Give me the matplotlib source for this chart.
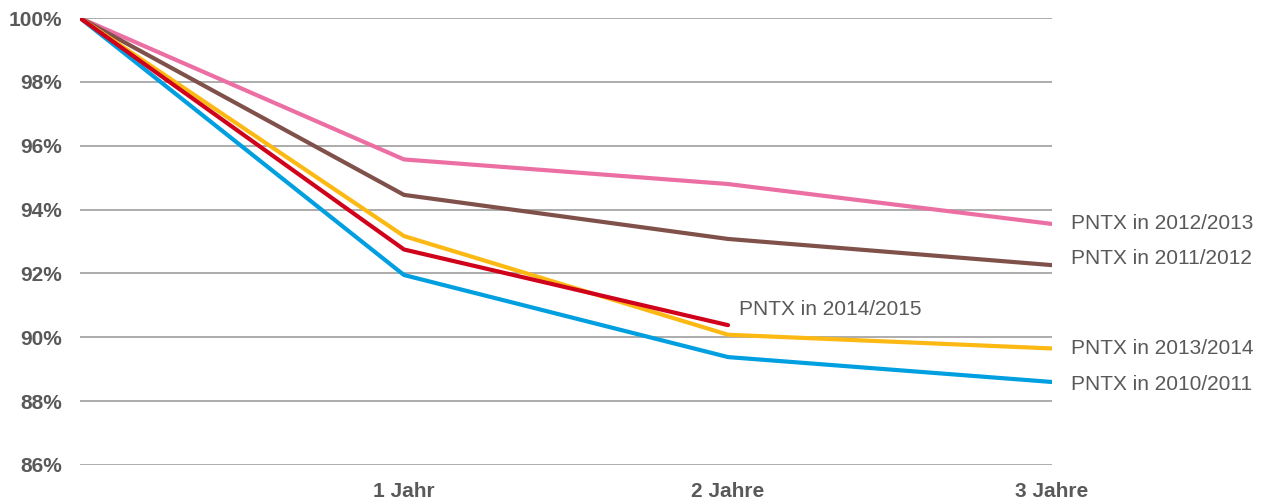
import matplotlib
matplotlib.use('Agg')
import matplotlib.pyplot as plt

plt.rcParams['font.family'] = ['Liberation Sans', 'DejaVu Sans']

# retention after N years, per PNTX cohort (percent)
years = [0, 1, 2, 3]
year_labels = ['', '1 Jahr', '2 Jahre', '3 Jahre']
pntx_2010 = [100, 91.95, 89.38, 88.6]
pntx_2011 = [100, 94.46, 93.08, 92.26]
pntx_2012 = [100, 95.57, 94.8, 93.55]
pntx_2013 = [100, 93.17, 90.08, 89.65]
pntx_2014 = [100, 92.75, 90.38]

series = [
    ('PNTX in 2012/2013', pntx_2012, '#EC6FA4', (14, 0)),
    ('PNTX in 2011/2012', pntx_2011, '#80514A', (14, 4.5)),
    ('PNTX in 2010/2011', pntx_2010, '#009FE0', (14, -2)),
    ('PNTX in 2013/2014', pntx_2013, '#FDB913', (14, 0)),
    ('PNTX in 2014/2015', pntx_2014, '#D0021B', (8, 11.5)),
]

fig = plt.figure(figsize=(12.71, 5.04), dpi=100)
ax = fig.add_axes([80 / 1271, 1 - 465 / 504, 972 / 1271, 447 / 504])

for y in range(86, 101, 2):
    ax.axhline(y, color='#a6a6a6', lw=1.3, zorder=1)

for label, vals, color, off in series:
    xs = years[:len(vals)]
    ax.plot(xs, vals, color=color, lw=3.0, solid_capstyle='round',
            solid_joinstyle='round', zorder=3)
    ax.annotate(label, xy=(xs[-1], vals[-1]), xytext=off,
                textcoords='offset points', ha='left', va='center',
                fontsize=15, color='#595959', annotation_clip=False)

ax.set_xlim(0, 3)
ax.set_ylim(86, 100)
ax.set_yticks(range(86, 101, 2))
ax.set_yticklabels([f'{v}%' for v in range(86, 101, 2)],
                   fontsize=15, fontweight='bold', color='#595959')
ax.set_xticks(years)
ax.set_xticklabels(year_labels, fontsize=15, fontweight='bold', color='#595959')
ax.tick_params(axis='y', length=0, pad=13)
ax.tick_params(axis='x', length=0, pad=12)
for s in ax.spines.values():
    s.set_visible(False)

fig.savefig('out.png', dpi=100)
